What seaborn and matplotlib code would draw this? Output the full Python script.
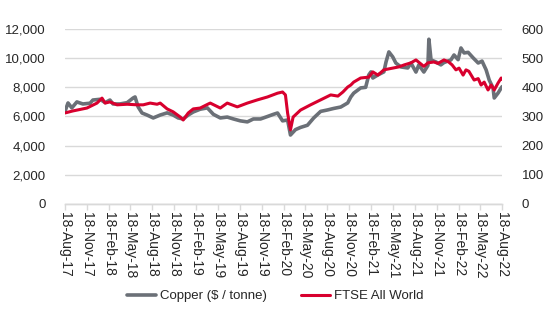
import matplotlib
matplotlib.use("Agg")
import matplotlib.pyplot as plt
import matplotlib.dates as mdates
from matplotlib.lines import Line2D
import seaborn as sns
import pandas as pd

copper_dates = [
    "2017-08-18", "2017-08-31", "2017-09-16", "2017-10-07", "2017-11-01", "2017-12-01",
    "2017-12-13", "2018-01-12", "2018-02-02", "2018-02-22", "2018-03-07", "2018-04-05",
    "2018-05-05", "2018-05-30", "2018-06-07", "2018-06-20", "2018-07-06", "2018-07-27",
    "2018-08-22", "2018-09-20", "2018-10-19", "2018-11-13", "2018-12-04", "2018-12-25",
    "2019-01-15", "2019-02-05", "2019-03-06", "2019-04-05", "2019-04-30", "2019-05-29",
    "2019-06-27", "2019-07-23", "2019-08-21", "2019-09-19", "2019-10-14", "2019-11-13",
    "2019-12-12", "2020-01-06", "2020-01-23", "2020-02-13", "2020-03-05", "2020-03-17",
    "2020-04-07", "2020-04-28", "2020-05-27", "2020-06-22", "2020-07-21", "2020-08-19",
    "2020-09-13", "2020-10-13", "2020-11-11", "2020-11-24", "2020-12-06", "2021-01-04",
    "2021-01-25", "2021-02-07", "2021-02-16", "2021-02-24", "2021-03-17", "2021-04-11",
    "2021-04-20", "2021-05-02", "2021-05-18", "2021-05-31", "2021-06-21", "2021-07-20",
    "2021-08-02", "2021-08-23", "2021-09-04", "2021-09-25", "2021-10-12", "2021-10-16",
    "2021-10-25", "2021-11-15", "2021-12-05", "2021-12-18", "2022-01-16", "2022-01-29",
    "2022-02-15", "2022-02-27", "2022-03-12", "2022-03-29", "2022-04-19", "2022-05-10",
    "2022-05-26", "2022-06-12", "2022-06-25", "2022-07-11", "2022-07-16", "2022-08-01",
    "2022-08-14", "2022-08-18",
]
copper_values = [
    6330, 6930, 6590, 7000, 6860, 6910,
    7130, 7180, 6950, 7130, 6860, 6860,
    6950, 7270, 7340, 6650, 6240, 6100,
    5900, 6100, 6250, 6100, 5900, 5830,
    6100, 6310, 6500, 6590, 6150, 5900,
    5960, 5830, 5700, 5630, 5830, 5830,
    6000, 6150, 6240, 5700, 5760, 4730,
    5100, 5250, 5400, 5900, 6350, 6450,
    6550, 6650, 6930, 7340, 7600, 7960,
    8000, 8850, 9060, 8640, 8850, 9060,
    9740, 10430, 10090, 9670, 9400, 9330,
    9670, 9050, 9540, 9050, 9500, 11300,
    9880, 9740, 9540, 9700, 9880, 10220,
    9900, 10700, 10360, 10400, 10020, 9670,
    9800, 9200, 8500, 7960, 7270, 7610,
    7960, 8050,
]

ftse_dates = [
    "2017-08-18", "2017-09-20", "2017-11-18", "2017-12-30", "2018-01-20", "2018-02-02",
    "2018-02-22", "2018-03-24", "2018-05-05", "2018-06-16", "2018-07-11", "2018-08-09",
    "2018-09-07", "2018-09-20", "2018-10-19", "2018-11-13", "2018-12-13", "2018-12-25",
    "2019-01-15", "2019-02-05", "2019-03-06", "2019-04-09", "2019-04-17", "2019-05-29",
    "2019-06-27", "2019-08-08", "2019-09-19", "2019-10-31", "2019-12-12", "2020-01-23",
    "2020-02-13", "2020-02-25", "2020-03-05", "2020-03-17", "2020-03-28", "2020-04-28",
    "2020-06-09", "2020-07-21", "2020-09-01", "2020-10-01", "2020-10-22", "2020-11-11",
    "2020-11-24", "2020-12-06", "2021-01-04", "2021-02-07", "2021-02-24", "2021-03-17",
    "2021-04-11", "2021-05-18", "2021-06-12", "2021-07-05", "2021-08-02", "2021-08-23",
    "2021-09-25", "2021-10-12", "2021-11-06", "2021-11-23", "2021-12-18", "2022-01-05",
    "2022-01-21", "2022-02-06", "2022-02-19", "2022-03-08", "2022-03-20", "2022-04-01",
    "2022-04-23", "2022-05-10", "2022-05-22", "2022-06-04", "2022-06-20", "2022-07-03",
    "2022-07-16", "2022-08-01", "2022-08-14", "2022-08-18",
]
ftse_values = [
    312, 319, 329, 346, 363, 346,
    350, 340, 342, 340, 340, 346,
    342, 346, 326, 316, 298, 288,
    312, 326, 329, 343, 346, 329,
    346, 333, 346, 357, 367, 380,
    384, 374, 312, 254, 298, 322,
    340, 357, 374, 370, 384, 401,
    408, 418, 432, 435, 453, 442,
    460, 466, 470, 477, 484, 494,
    472, 484, 487, 482, 494, 488,
    477, 460, 466, 442, 460, 455,
    425, 430, 408, 418, 391, 408,
    391, 415, 432, 428,
]

tick_dates = [
    "2017-08-18", "2017-11-18", "2018-02-18", "2018-05-18", "2018-08-18", "2018-11-18",
    "2019-02-18", "2019-05-18", "2019-08-18", "2019-11-18", "2020-02-18", "2020-05-18",
    "2020-08-18", "2020-11-18", "2021-02-18", "2021-05-18", "2021-08-18", "2021-11-18",
    "2022-02-18", "2022-05-18", "2022-08-18",
]
left_ticks = [0, 2000, 4000, 6000, 8000, 10000, 12000]
right_ticks = [0, 100, 200, 300, 400, 500, 600]

copper_label = "Copper ($ / tonne)"
ftse_label = "FTSE All World"

sns.set_theme(style="white")
plt.rcParams["font.family"] = ["Liberation Sans", "DejaVu Sans"]

GREY = "#6b7077"
RED = "#d8002e"
GRID = "#d9d9d9"
TXT = "#262626"

cu = pd.DataFrame({"date": pd.to_datetime(copper_dates), "value": copper_values})
fw = pd.DataFrame({"date": pd.to_datetime(ftse_dates), "value": ftse_values})

fig = plt.figure(figsize=(5.5, 3.3), dpi=100)
ax = fig.add_axes([0.118, 0.382, 0.795, 0.530])
ax2 = ax.twinx()

sns.lineplot(data=cu, x="date", y="value", ax=ax, color=GREY, linewidth=2.6)
sns.lineplot(data=fw, x="date", y="value", ax=ax2, color=RED, linewidth=2.2)

ticks = pd.to_datetime(tick_dates)
ax.set_xlim(ticks[0], ticks[-1])
ax.set_ylim(0, 12000)
ax2.set_ylim(0, 600)
ax.set_yticks(left_ticks)
ax.set_yticklabels([f"{v:,}" for v in left_ticks])
ax2.set_yticks(right_ticks)
ax2.set_yticklabels([str(v) for v in right_ticks])

ax.set_xticks(ticks)
ax.xaxis.set_major_formatter(mdates.DateFormatter("%d-%b-%y"))
for lab in ax.get_xticklabels():
    lab.set_rotation(270)
    lab.set_ha("center")
    lab.set_va("top")

ax.grid(axis="y", color=GRID, linewidth=1.0)
ax.set_axisbelow(True)
ax2.grid(False)

for a in (ax, ax2):
    a.set_xlabel("")
    a.set_ylabel("")
    for side in ("top", "left", "right"):
        a.spines[side].set_visible(False)
    a.spines["bottom"].set_color(GRID)
    a.spines["bottom"].set_linewidth(1.0)

ax.tick_params(axis="x", which="major", bottom=True, length=4, width=1, color=GRID,
               labelsize=10, labelcolor=TXT, pad=2)
ax.tick_params(axis="y", left=False, labelsize=9.5, labelcolor=TXT, pad=8)
ax2.tick_params(axis="y", right=False, labelsize=9.5, labelcolor=TXT, pad=8)

handles = [Line2D([], [], color=GREY, linewidth=2.6),
           Line2D([], [], color=RED, linewidth=2.2)]
fig.legend(handles, [copper_label, ftse_label], loc="center", bbox_to_anchor=(0.5, 0.103),
           ncol=2, frameon=False, fontsize=9.5, handlelength=2.2, handletextpad=0.3,
           columnspacing=2.6, labelcolor=TXT)

fig.savefig("out.png", dpi=100)
